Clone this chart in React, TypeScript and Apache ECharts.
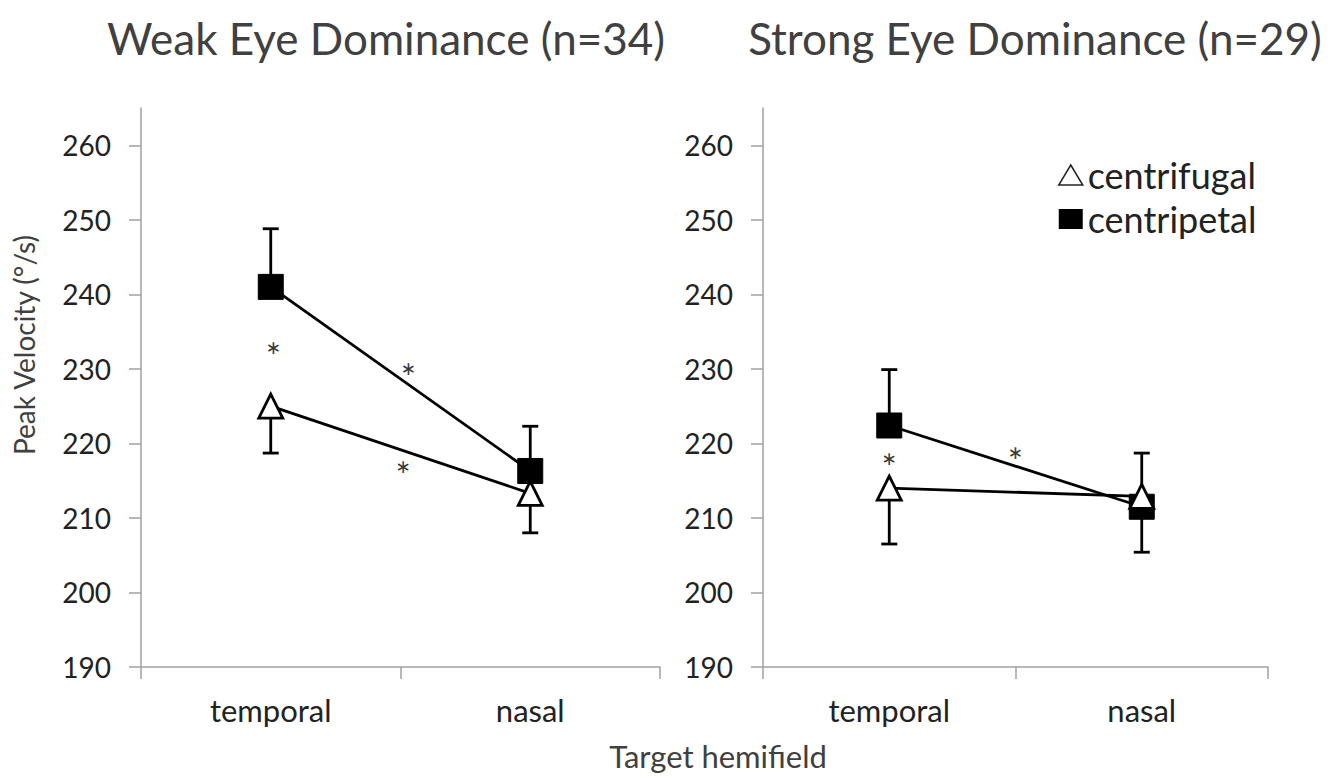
import React, { useEffect, useRef } from "react";
import * as echarts from "echarts";

const categories = ["temporal", "nasal"];
const yTicks = [190, 200, 210, 220, 230, 240, 250, 260];

const weakCentrifugal = [225.0, 213.3];
const weakCentrifugalErr = [6.3, 5.3];
const weakCentripetal = [241.0, 216.3];
const weakCentripetalErr = [7.8, 6.0];

const strongCentrifugal = [214.0, 212.9];
const strongCentrifugalErr = [7.5, 7.5];
const strongCentripetal = [222.4, 211.5];
const strongCentripetalErr = [7.5, 7.2];

// significance asterisks: [x position (category index), value]
const weakStars = [
  [0.01, 232.9],
  [0.53, 230.1],
  [0.51, 217.0],
];
const strongStars = [
  [0.0, 218.0],
  [0.5, 218.8],
];

const FONT = "Lato";
const BLACK = "#000";

function errorSeries(means: number[], errs: number[], dir: number, g: number) {
  return {
    type: "custom",
    xAxisIndex: g * 2 + 1,
    yAxisIndex: g,
    z: 1,
    silent: true,
    encode: { x: 0, y: [1, 2] },
    data: means.map((m, i) => [i, m, m + dir * errs[i]]),
    renderItem: (params: any, api: any) => {
      const x = api.value(0);
      const p1 = api.coord([x, api.value(1)]);
      const p2 = api.coord([x, api.value(2)]);
      const st = { stroke: BLACK, lineWidth: 2.8 };
      return {
        type: "group",
        children: [
          { type: "line", shape: { x1: p1[0], y1: p1[1], x2: p2[0], y2: p2[1] }, style: st },
          { type: "line", shape: { x1: p2[0] - 8, y1: p2[1], x2: p2[0] + 8, y2: p2[1] }, style: st },
        ],
      };
    },
  };
}

function lineSeries(name: string, vals: number[], g: number, tri: boolean) {
  return {
    name,
    type: "line",
    xAxisIndex: g * 2 + 1,
    yAxisIndex: g,
    z: tri ? 4 : 3,
    data: vals.map((v, i) => [i, v]),
    symbol: tri ? "triangle" : "rect",
    symbolSize: tri ? 24 : 25,
    lineStyle: { color: BLACK, width: 2.8 },
    itemStyle: tri
      ? { color: "#fff", borderColor: BLACK, borderWidth: 2.8 }
      : { color: BLACK, borderColor: BLACK, borderWidth: 1 },
  };
}

function starSeries(stars: number[][], g: number) {
  return {
    type: "scatter",
    xAxisIndex: g * 2 + 1,
    yAxisIndex: g,
    symbolSize: 0,
    silent: true,
    data: stars,
    label: {
      show: true,
      position: "inside",
      formatter: "*",
      fontFamily: FONT,
      fontSize: 36,
      color: "#000",
      offset: [0, 9],
    },
  };
}

const grids = [
  { left: 141, width: 519, top: 108, height: 559 },
  { left: 763, width: 505, top: 108, height: 559 },
];

export default function App() {
  const ref = useRef<HTMLDivElement>(null);
  useEffect(() => {
    document.body.style.margin = "0";
    const chart = echarts.init(ref.current!, null, { renderer: "svg" });
    const axisLine = { show: true, onZero: false, lineStyle: { color: "#a0a0a0", width: 1.5 } };
    const xAxes: any[] = [];
    const yAxes: any[] = [];
    grids.forEach((_, g) => {
      xAxes.push({
        type: "category",
        gridIndex: g,
        data: categories,
        boundaryGap: true,
        axisLine,
        axisTick: { show: true, length: 12, lineStyle: { color: "#a0a0a0", width: 1.5 } },
        axisLabel: { fontFamily: FONT, fontSize: 31, color: "#222", margin: 27 },
        splitLine: { show: false },
      });
      xAxes.push({
        type: "value",
        gridIndex: g,
        min: -0.5,
        max: 1.5,
        show: false,
      });
      yAxes.push({
        type: "value",
        gridIndex: g,
        min: 190,
        max: 265,
        interval: 10,
        axisLine,
        axisTick: {
          show: true,
          length: 12,
          customValues: yTicks,
          lineStyle: { color: "#a0a0a0", width: 1.5 },
        },
        axisLabel: {
          customValues: yTicks,
          fontFamily: FONT,
          fontSize: 28,
          color: "#222",
          margin: 30,
        },
        splitLine: { show: false },
      });
    });

    chart.setOption({
      animation: false,
      backgroundColor: "#fff",
      grid: grids,
      xAxis: xAxes,
      yAxis: yAxes,
      legend: {
        orient: "vertical",
        left: 1053,
        top: 152,
        itemWidth: 24,
        itemHeight: 20,
        itemGap: 8,
        textStyle: { fontFamily: FONT, fontSize: 36, color: "#222" },
        data: [
          { name: "centrifugal", icon: "triangle", itemStyle: { color: "#fff", borderColor: "#222", borderWidth: 1.5 } },
          { name: "centripetal", icon: "rect", itemStyle: { color: BLACK, borderColor: BLACK, borderWidth: 0 } },
        ],
      },
      graphic: [
        {
          type: "text",
          x: 386,
          y: 38,
          style: { text: "Weak Eye Dominance (n=34)", fontFamily: FONT, fontSize: 44, fill: "#404040", align: "center", verticalAlign: "middle" },
        },
        {
          type: "text",
          x: 1035,
          y: 38,
          style: { text: "Strong Eye Dominance (n=29)", fontFamily: FONT, fontSize: 44, fill: "#404040", align: "center", verticalAlign: "middle" },
        },
        {
          type: "text",
          x: 24,
          y: 345,
          rotation: Math.PI / 2,
          style: { text: "Peak Velocity (°/s)", fontFamily: FONT, fontSize: 28, fill: "#404040", align: "center", verticalAlign: "middle" },
        },
        {
          type: "text",
          x: 718,
          y: 756,
          style: { text: "Target hemifield", fontFamily: FONT, fontSize: 31, fill: "#404040", align: "center", verticalAlign: "middle" },
        },
      ],
      series: [
        errorSeries(weakCentripetal, weakCentripetalErr, 1, 0),
        errorSeries(weakCentrifugal, weakCentrifugalErr, -1, 0),
        errorSeries(strongCentripetal, strongCentripetalErr, 1, 1),
        errorSeries(strongCentrifugal, strongCentrifugalErr, -1, 1),
        lineSeries("centripetal", weakCentripetal, 0, false),
        lineSeries("centrifugal", weakCentrifugal, 0, true),
        lineSeries("centripetal", strongCentripetal, 1, false),
        lineSeries("centrifugal", strongCentrifugal, 1, true),
        starSeries(weakStars, 0),
        starSeries(strongStars, 1),
      ],
    });
    return () => chart.dispose();
  }, []);
  return <div ref={ref} style={{ width: 1332, height: 778 }} />;
}
